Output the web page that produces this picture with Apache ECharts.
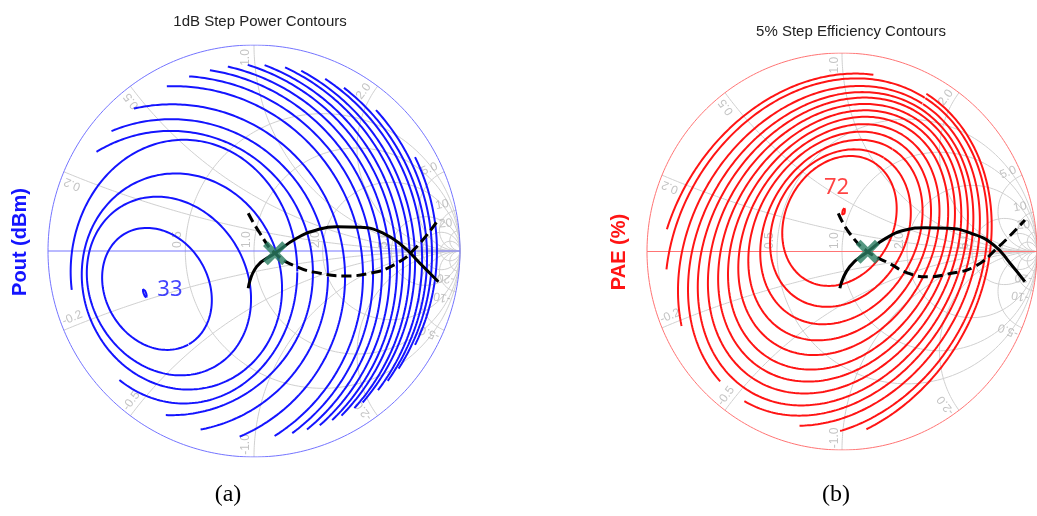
<!DOCTYPE html>
<html>
<head>
<meta charset="utf-8">
<script src="https://cdn.jsdelivr.net/npm/echarts@6/dist/echarts.min.js"></script>
<style>
html, body { margin: 0; padding: 0; background: #ffffff; }
#chart { width: 1037px; height: 516px; }
</style>
</head>
<body>
<div id="chart"></div>
<script>
// ---------- Smith chart grid values ----------
const resistanceTicks = [0.5, 1, 2, 5, 10, 20];
const reactanceTicks = [0.2, 0.5, 1, 2, 5, 10, 20, -0.2, -0.5, -1, -2, -5, -10, -20];
const resistanceLabels = ['0.5', '1.0', '2.0', '5.0'];
const reactanceLabels = ['0.2', '0.5', '1.0', '2.0', '5.0', '10', '20', '-0.2', '-0.5', '-1.0', '-2.0', '-5.0', '-10', '-20'];

// ---------- Output power contours (dBm) in the reflection-coefficient plane ----------
// contour outline: centre (cx, cy), semi-axes a (along tilt) and b, tilt in degrees
const powerLevels = [33, 32, 31, 30, 29, 28, 27, 26, 25, 24, 23, 22, 21, 20, 19, 18, 17, 16, 15, 14];
const powerCx   = [-0.53, -0.471, -0.413, -0.35, -0.34, -0.404, -0.401, -0.398, -0.391, -0.382, -0.369, -0.35, -0.336, -0.317, -0.293, -0.268, -0.234, -0.20, -0.171, -0.142];
const powerCy   = [-0.205, -0.184, -0.17, -0.148, -0.10, -0.107, -0.12, -0.128, -0.12, -0.11, -0.10, -0.09, -0.08, -0.07, -0.06, -0.05, -0.04, -0.03, -0.015, 0.0];
const powerA    = [0.022, 0.31, 0.45, 0.53, 0.55, 0.69, 0.76, 0.84, 0.92, 0.96, 0.99, 1.01, 1.03, 1.04, 1.05, 1.05, 1.05, 1.04, 1.035, 1.03];
const powerB    = [0.006, 0.25, 0.38, 0.48, 0.64, 0.69, 0.76, 0.84, 0.92, 0.96, 0.99, 1.01, 1.03, 1.04, 1.05, 1.05, 1.05, 1.04, 1.035, 1.03];
const powerTilt = [-70, -60, -60, -70, 0, 0, 0, 0, 0, 0, 0, 0, 0, 0, 0, 0, 0, 0, 0, 0];

// ---------- Power-added efficiency contours (%) ----------
const paeLevels = [72, 67, 62, 57, 52, 47, 42, 37, 32, 27, 22, 17, 12, 7];
const paeCx   = [0.008, -0.013, -0.008, -0.003, -0.012, -0.016, -0.02, -0.028, -0.038, -0.047, -0.058, -0.067, -0.08, -0.092];
const paeCy   = [0.199, 0.154, 0.118, 0.098, 0.078, 0.06, 0.042, 0.028, 0.014, 0.0, -0.012, -0.022, -0.033, -0.045];
const paeA    = [0.02, 0.343, 0.418, 0.493, 0.559, 0.62, 0.679, 0.728, 0.776, 0.824, 0.864, 0.904, 0.952, 0.99];
const paeB    = [0.006, 0.275, 0.336, 0.382, 0.428, 0.469, 0.513, 0.553, 0.593, 0.634, 0.673, 0.717, 0.772, 0.803];
const paeTilt = [80, 60, 58, 58, 58, 58, 58, 58, 58, 58, 58, 58, 58, 58];

// edge of the measured load region (|Gamma|)
const measuredRadius = 0.905;

// ---------- Impedance trajectories and optimum load ----------
const trajSolidA  = [[-0.028, -0.181], [0.013, -0.076], [0.102, -0.011], [0.207, 0.062], [0.304, 0.102], [0.401, 0.118], [0.515, 0.115], [0.628, 0.086], [0.725, 0.021], [0.806, -0.06], [0.895, -0.149]];
const trajDashedA = [[-0.028, 0.183], [0.029, 0.086], [0.102, -0.011], [0.207, -0.076], [0.32, -0.108], [0.434, -0.121], [0.563, -0.108], [0.693, -0.06], [0.79, 0.021], [0.887, 0.142]];
const trajSolidB  = [[-0.011, -0.185], [0.039, -0.077], [0.132, -0.001], [0.224, 0.066], [0.325, 0.108], [0.426, 0.12], [0.543, 0.117], [0.661, 0.092], [0.778, 0.033], [0.862, -0.059], [0.938, -0.152]];
const trajDashedB = [[-0.019, 0.192], [0.039, 0.092], [0.132, -0.001], [0.241, -0.059], [0.342, -0.11], [0.442, -0.127], [0.56, -0.11], [0.678, -0.077], [0.795, 0.016], [0.938, 0.159]];
const optimumA = [0.102, -0.011];
const optimumB = [0.132, -0.001];

// ---------- helpers ----------
function gammaOf(r, x) {
  const d = (r + 1) * (r + 1) + x * x;
  return [(r * r - 1 + x * x) / d, 2 * x / d];
}

function lineSeries(idx, data, color, width, extra) {
  return Object.assign({
    type: 'line', xAxisIndex: idx, yAxisIndex: idx, data: data,
    symbol: 'none', silent: true, animation: false, connectNulls: false,
    lineStyle: { color: color, width: width }, z: 2
  }, extra || {});
}

function smithGrid(idx, frameColor) {
  const out = [];
  const gridColor = '#d0d0d0';
  resistanceTicks.forEach(function (r) {
    const pts = [[1, 0]];
    const n = 500;
    for (let i = 1; i < n; i++) {
      const t = -Math.PI / 2 + Math.PI * i / n;
      pts.push(gammaOf(r, Math.tan(t)));
    }
    pts.push([1, 0]);
    out.push(lineSeries(idx, pts, gridColor, 1, { z: 1 }));
  });
  reactanceTicks.forEach(function (x) {
    const pts = [];
    const n = 400;
    for (let i = 0; i < n; i++) {
      const t = (Math.PI / 2) * i / n;
      pts.push(gammaOf(Math.tan(t), x));
    }
    pts.push([1, 0]);
    out.push(lineSeries(idx, pts, gridColor, 1, { z: 1 }));
  });
  // outer circle and real axis
  const ring = [];
  for (let i = 0; i <= 720; i++) {
    const a = 2 * Math.PI * i / 720;
    ring.push([Math.cos(a), Math.sin(a)]);
  }
  out.push(lineSeries(idx, ring, frameColor, 1, { z: 1 }));
  out.push(lineSeries(idx, [[-1, 0], [1, 0]], frameColor, 1, { z: 1 }));

  // tick labels
  const labels = [];
  reactanceTicks.forEach(function (x, i) {
    const g = gammaOf(0, x);
    const th = Math.atan2(g[1], g[0]);
    const thDeg = th * 180 / Math.PI;
    const off = (x > 0 ? 2.4 : -2.4) * Math.PI / 180;
    const rad = 0.94;
    labels.push({
      value: [rad * Math.cos(th + off), rad * Math.sin(th + off)],
      name: reactanceLabels[i],
      label: { rotate: x > 0 ? thDeg : thDeg + 180 }
    });
  });
  resistanceLabels.forEach(function (txt, i) {
    const r = resistanceTicks[i];
    const left = (r - 1) / (r + 1);
    labels.push({ value: [left - 0.035, 0.055], name: txt, label: { rotate: 90 } });
  });
  out.push({
    type: 'scatter', xAxisIndex: idx, yAxisIndex: idx, data: labels,
    symbolSize: 1, itemStyle: { color: 'rgba(0,0,0,0)' }, silent: true, animation: false, z: 1,
    label: {
      show: true, position: 'inside', formatter: function (p) { return p.name; },
      color: '#b4b4b4', fontSize: 12, fontFamily: 'Liberation Sans, Arial, sans-serif'
    }
  });
  return out;
}

// contour outline, kept only inside the measured region
function contourPath(cx, cy, a, b, tiltDeg) {
  const t = tiltDeg * Math.PI / 180;
  const pts = [];
  const n = 1440;
  for (let i = 0; i <= n; i++) {
    const s = 2 * Math.PI * i / n;
    const u = a * Math.cos(s), v = b * Math.sin(s);
    const x = cx + u * Math.cos(t) - v * Math.sin(t);
    const y = cy + u * Math.sin(t) + v * Math.cos(t);
    pts.push(Math.hypot(x, y) <= measuredRadius ? [x, y] : [null, null]);
  }
  return pts;
}

function contourSeries(idx, cx, cy, a, b, tilt, color) {
  return cx.map(function (_, i) {
    return lineSeries(idx, contourPath(cx[i], cy[i], a[i], b[i], tilt[i]), color, 2, { z: 3 });
  });
}

function levelLabel(idx, pos, text, color) {
  return {
    type: 'scatter', xAxisIndex: idx, yAxisIndex: idx, data: [{ value: pos, name: text }],
    symbolSize: 1, itemStyle: { color: 'rgba(0,0,0,0)' }, silent: true, animation: false, z: 6,
    label: { show: true, position: 'inside', formatter: function (p) { return p.name; },
      color: color, fontSize: 22, fontFamily: 'Noto Sans, sans-serif' }
  };
}

const blue = '#1414ff';
const red = '#ff1414';
const green = '#2b7d62';
const xMark = 'path://M0,4 L4,0 L10,6 L16,0 L20,4 L14,10 L20,16 L16,20 L10,14 L4,20 L0,16 L6,10 Z';
const dashed = { color: '#000', width: 3, type: [10, 5] };

const series = [].concat(
  smithGrid(0, '#7474ff'),
  smithGrid(1, '#ff7474'),
  contourSeries(0, powerCx, powerCy, powerA, powerB, powerTilt, blue),
  contourSeries(1, paeCx, paeCy, paeA, paeB, paeTilt, red),
  [
    lineSeries(0, trajSolidA, '#000', 3, { smooth: true, z: 5 }),
    lineSeries(0, trajDashedA, '#000', 3, { smooth: true, z: 5, lineStyle: dashed }),
    lineSeries(1, trajSolidB, '#000', 3, { smooth: true, z: 5 }),
    lineSeries(1, trajDashedB, '#000', 3, { smooth: true, z: 5, lineStyle: dashed }),
    {
      type: 'scatter', xAxisIndex: 0, yAxisIndex: 0, data: [optimumA], symbol: xMark, symbolSize: 24,
      itemStyle: { color: green }, silent: true, animation: false, z: 6
    },
    {
      type: 'scatter', xAxisIndex: 1, yAxisIndex: 1, data: [optimumB], symbol: xMark, symbolSize: 24,
      itemStyle: { color: green }, silent: true, animation: false, z: 6
    },
    levelLabel(0, [-0.408, -0.189], String(powerLevels[0]), blue),
    levelLabel(1, [-0.028, 0.32], String(paeLevels[0]), red)
  ]
);

function axis(idx) {
  return { gridIndex: idx, type: 'value', min: -1, max: 1, show: false };
}

const option = {
  backgroundColor: '#ffffff',
  animation: false,
  title: [
    { text: '1dB Step Power Contours', left: 255, top: 9, textAlign: 'center',
      textStyle: { fontSize: 15, fontWeight: 'normal', color: '#222', fontFamily: 'Liberation Sans, Arial, sans-serif' } },
    { text: '5% Step Efficiency Contours', left: 846, top: 19, textAlign: 'center',
      textStyle: { fontSize: 15, fontWeight: 'normal', color: '#222', fontFamily: 'Liberation Sans, Arial, sans-serif' } }
  ],
  grid: [
    { left: 48, top: 45, width: 412, height: 412 },
    { left: 647, top: 53, width: 397, height: 397 }
  ],
  xAxis: [axis(0), axis(1)],
  yAxis: [axis(0), axis(1)],
  graphic: [
    { type: 'text', rotation: Math.PI / 2, x: 20, y: 242,
      style: { text: 'Pout (dBm)', fill: blue, font: 'bold 20px "Liberation Sans", Arial, sans-serif', textAlign: 'center', textVerticalAlign: 'middle' } },
    { type: 'text', rotation: Math.PI / 2, x: 619, y: 252,
      style: { text: 'PAE (%)', fill: red, font: 'bold 20px "Liberation Sans", Arial, sans-serif', textAlign: 'center', textVerticalAlign: 'middle' } },
    { type: 'text', x: 228, y: 495,
      style: { text: '(a)', fill: '#000', font: '24px "Liberation Serif", "Times New Roman", serif', textAlign: 'center', textVerticalAlign: 'middle' } },
    { type: 'text', x: 836, y: 495,
      style: { text: '(b)', fill: '#000', font: '24px "Liberation Serif", "Times New Roman", serif', textAlign: 'center', textVerticalAlign: 'middle' } }
  ],
  series: series
};

const chart = echarts.init(document.getElementById('chart'), null, { renderer: 'canvas' });
chart.setOption(option);
</script>
</body>
</html>
